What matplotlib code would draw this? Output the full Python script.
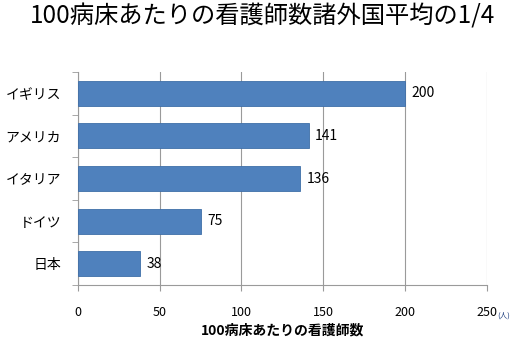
import matplotlib
matplotlib.use("Agg")
import matplotlib.pyplot as plt
import numpy as np

plt.rcParams['font.family'] = ['Noto Sans CJK JP', 'DejaVu Sans']

countries = ['イギリス', 'アメリカ', 'イタリア', 'ドイツ', '日本']
nurses = [200, 141, 136, 75, 38]
xticks = [0, 50, 100, 150, 200, 250]

fig = plt.figure(figsize=(5.12, 3.49), dpi=100)
ax = fig.add_axes([0.152, 0.183, 0.799, 0.611])

y = np.arange(len(countries))[::-1]
ax.barh(y, nurses, height=0.58, color='#4f81bd', edgecolor='#3f6fa8', linewidth=0.6, zorder=3)
for yi, v in zip(y, nurses):
    ax.text(v + 4, yi, str(v), va='center', ha='left', fontsize=10, color='black')

ax.set_xlim(0, 250)
ax.set_ylim(-0.5, len(countries) - 0.5)
ax.set_xticks(xticks)
ax.set_xticklabels([str(t) for t in xticks], fontsize=9)
ax.grid(axis='x', color='#9a9a9a', linewidth=0.8, zorder=0)

ax.set_yticks(y)
ax.set_yticklabels(countries, fontsize=10)
ax.set_yticks(np.arange(-0.5, len(countries)), minor=True)
ax.tick_params(axis='y', which='major', length=0, pad=12)
ax.tick_params(axis='y', which='minor', length=4, color='#9a9a9a')
ax.tick_params(axis='x', length=4, color='#9a9a9a', pad=11)

for s in ['top', 'right']:
    ax.spines[s].set_visible(False)
for s in ['left', 'bottom']:
    ax.spines[s].set_color('#9a9a9a')

ax.set_xlabel('100病床あたりの看護師数', fontsize=10, fontweight='bold', labelpad=3)
fig.text(0.972, 0.095, '(人)', fontsize=5.5, color='#1f3f7f', ha='left', va='center')
fig.suptitle('100病床あたりの看護師数諸外国平均の1/4', fontsize=17.5, x=0.512, y=0.99)

fig.savefig('out.png', dpi=100)
